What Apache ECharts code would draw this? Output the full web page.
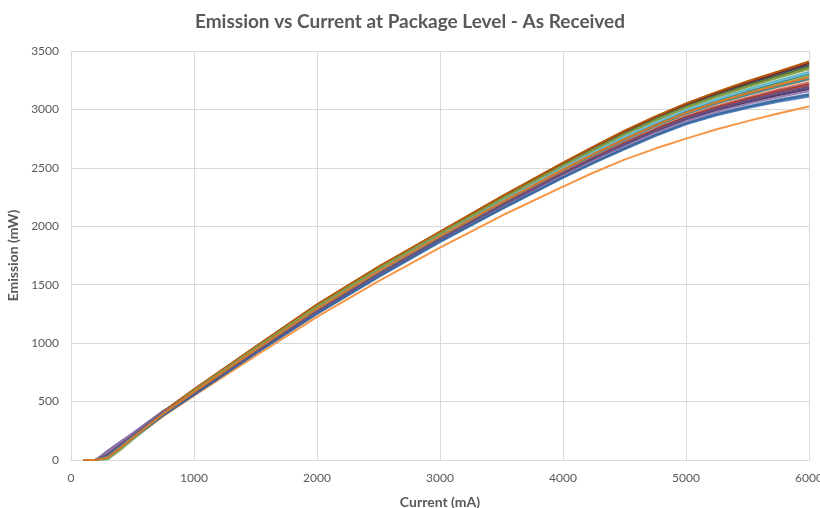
<!DOCTYPE html>
<html>
<head>
    <meta charset="utf-8">
    <script type="text/javascript" src="https://cdn.jsdelivr.net/npm/echarts@6/dist/echarts.min.js"></script>
    <title>Emission vs Current</title>
    <style>
        body { margin: 0; background: #fff; }
        #main { width: 820px; height: 508px; }
    </style>
</head>
<body>
<div id="main"></div>
<script type="text/javascript">
    // current (mA) sample points, shared by all parts
    var current = [100, 200, 300, 400, 500, 750, 1000, 1500, 2000, 2500, 3000, 3500,
                   4000, 4250, 4500, 4750, 5000, 5250, 5500, 5750, 6000];

    // emission (mW) per part
    var s1  = [0, 0, 20, 95, 175, 380, 555, 910, 1250, 1565, 1865, 2145, 2415, 2540, 2658, 2771, 2872, 2950, 3011, 3066, 3110];
    var s2  = [0, 0, 30, 108, 190, 392, 570, 928, 1273, 1592, 1892, 2178, 2454, 2583, 2706, 2822, 2926, 3010, 3080, 3144, 3200];
    var s3  = [0, 0, 10, 90, 178, 388, 585, 946, 1298, 1619, 1919, 2211, 2493, 2626, 2754, 2873, 2980, 3070, 3149, 3222, 3290];
    var s4  = [0, 0, 80, 155, 228, 420, 575, 922, 1265, 1583, 1883, 2167, 2441, 2569, 2690, 2805, 2908, 2990, 3057, 3118, 3170];
    var s5  = [0, 0, 8, 88, 176, 392, 590, 952, 1307, 1628, 1928, 2222, 2506, 2641, 2770, 2890, 2998, 3090, 3172, 3248, 3320];
    var s6  = [0, 0, 20, 100, 180, 375, 550, 890, 1225, 1530, 1818, 2090, 2340, 2460, 2570, 2665, 2750, 2830, 2900, 2965, 3025];
    var s7  = [0, 0, 50, 135, 215, 415, 600, 964, 1324, 1646, 1946, 2244, 2532, 2670, 2802, 2924, 3034, 3130, 3218, 3300, 3380];
    var s8  = [0, 0, 35, 125, 208, 410, 603, 967, 1328, 1650, 1950, 2250, 2538, 2677, 2810, 2932, 3043, 3140, 3230, 3313, 3395];
    var s9  = [0, 0, 45, 130, 212, 412, 598, 961, 1319, 1641, 1941, 2238, 2525, 2662, 2794, 2916, 3025, 3120, 3206, 3287, 3365];
    var s10 = [0, 0, 60, 140, 215, 405, 566, 924, 1267, 1585, 1885, 2170, 2444, 2572, 2694, 2809, 2912, 2995, 3063, 3124, 3178];
    var s11 = [0, 0, 25, 110, 195, 400, 588, 949, 1303, 1624, 1924, 2216, 2500, 2634, 2762, 2882, 2989, 3080, 3160, 3235, 3305];
    var s12 = [0, 0, 40, 128, 210, 413, 605, 970, 1332, 1655, 1955, 2255, 2545, 2684, 2818, 2941, 3052, 3150, 3241, 3326, 3410];
    var s13 = [0, 0, 30, 105, 185, 385, 560, 914, 1254, 1572, 1872, 2153, 2425, 2551, 2670, 2784, 2886, 2965, 3028, 3086, 3132];
    var s14 = [0, 0, 55, 138, 215, 405, 575, 934, 1282, 1601, 1901, 2189, 2467, 2598, 2722, 2839, 2944, 3030, 3103, 3170, 3230];
    var s15 = [0, 0, 5, 82, 172, 386, 592, 956, 1313, 1635, 1935, 2230, 2516, 2652, 2782, 2903, 3012, 3105, 3189, 3268, 3343];
    var s16 = [0, 0, 65, 145, 220, 408, 563, 919, 1261, 1579, 1878, 2162, 2434, 2562, 2682, 2796, 2899, 2980, 3046, 3105, 3155];
    var s17 = [0, 0, 12, 92, 180, 394, 589, 951, 1305, 1626, 1926, 2219, 2503, 2637, 2766, 2886, 2994, 3085, 3166, 3241, 3312];
    var s18 = [0, 0, 35, 115, 196, 399, 579, 938, 1288, 1608, 1908, 2197, 2477, 2608, 2734, 2852, 2958, 3045, 3120, 3190, 3252];
    var s19 = [0, 0, 25, 100, 182, 382, 557, 913, 1252, 1570, 1870, 2150, 2421, 2547, 2666, 2780, 2881, 2960, 3022, 3079, 3125];
    var s20 = [0, 0, 45, 128, 205, 402, 572, 931, 1278, 1597, 1897, 2183, 2460, 2590, 2714, 2830, 2935, 3020, 3092, 3157, 3215];
    var s21 = [0, 0, 15, 95, 182, 396, 595, 958, 1315, 1637, 1937, 2233, 2519, 2655, 2786, 2907, 3016, 3110, 3195, 3274, 3350];
    var s22 = [0, 0, 50, 132, 210, 403, 569, 926, 1271, 1590, 1890, 2175, 2451, 2580, 2702, 2818, 2922, 3005, 3074, 3138, 3192];
    var s23 = [0, 0, 30, 112, 194, 398, 580, 940, 1290, 1610, 1910, 2200, 2480, 2612, 2738, 2856, 2962, 3050, 3126, 3196, 3260];
    var s24 = [0, 0, 22, 105, 190, 396, 583, 943, 1294, 1614, 1914, 2205, 2486, 2619, 2746, 2864, 2971, 3060, 3138, 3209, 3275];

    var parts = [s1, s2, s3, s4, s5, s6, s7, s8, s9, s10, s11, s12,
                 s13, s14, s15, s16, s17, s18, s19, s20, s21, s22, s23, s24];

    // office style palette
    var colors = ['#4F81BD', '#C0504D', '#9BBB59', '#8064A2', '#4BACC6', '#F79646',
                  '#2C4D75', '#772C2A', '#5F7530', '#4D3B62', '#276A7C', '#B65708',
                  '#729ACA', '#CD7371', '#AFC97A', '#9983B5', '#6FBDD1', '#F9AB6B',
                  '#3A679C', '#A0413E', '#7F9A48', '#664F83', '#358EA6', '#D8782A'];

    var series = [];
    for (var i = 0; i < parts.length; i++) {
        var pts = [];
        for (var j = 0; j < current.length; j++) {
            pts.push([current[j], parts[i][j]]);
        }
        series.push({
            name: 'Part ' + (i + 1),
            type: 'line',
            data: pts,
            showSymbol: false,
            lineStyle: {width: 2, color: colors[i]},
            itemStyle: {color: colors[i]}
        });
    }

    function plain(v) {
        return String(v);
    }

    var myChart = echarts.init(document.getElementById('main'));
    var option = {
        animation: false,
        textStyle: {fontFamily: 'Lato'},
        title: {
            text: 'Emission vs Current at Package Level - As Received',
            left: 'center',
            top: 7,
            textStyle: {fontFamily: 'Lato', fontSize: 19, fontWeight: 'bold', color: '#595959'}
        },
        grid: {left: 71, right: 11, top: 51, bottom: 48, containLabel: false, outerBoundsMode: 'none'},
        xAxis: {
            type: 'value',
            min: 0,
            max: 6000,
            interval: 1000,
            name: 'Current (mA)',
            nameLocation: 'middle',
            nameGap: 35,
            nameTextStyle: {fontFamily: 'Lato', fontSize: 14, fontWeight: 'bold', color: '#595959'},
            axisLine: {show: true, lineStyle: {color: '#d9d9d9'}},
            axisTick: {show: false},
            axisLabel: {color: '#595959', fontSize: 12, margin: 12, formatter: plain},
            splitLine: {show: true, lineStyle: {color: '#d9d9d9'}}
        },
        yAxis: {
            type: 'value',
            min: 0,
            max: 3500,
            interval: 500,
            name: 'Emission (mW)',
            nameLocation: 'middle',
            nameGap: 43,
            nameTextStyle: {fontFamily: 'Lato', fontSize: 14, fontWeight: 'bold', color: '#595959'},
            axisLine: {show: false},
            axisTick: {show: false},
            axisLabel: {color: '#595959', fontSize: 12, margin: 12, formatter: plain},
            splitLine: {show: true, lineStyle: {color: '#d9d9d9'}}
        },
        series: series
    };
    myChart.setOption(option);
</script>
</body>
</html>
